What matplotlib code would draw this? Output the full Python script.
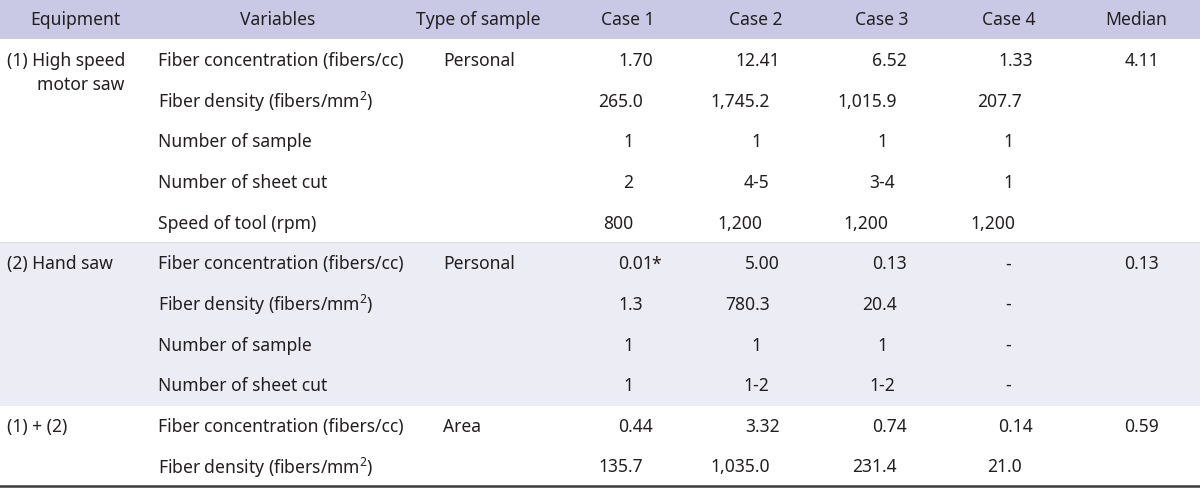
import matplotlib
matplotlib.use("Agg")
import matplotlib.pyplot as plt
from matplotlib.patches import Rectangle

plt.rcParams['font.family'] = ['Noto Sans', 'DejaVu Sans']
plt.rcParams['mathtext.fontset'] = 'custom'
plt.rcParams['mathtext.rm'] = 'Noto Sans'

# ---------------- data ----------------
headers = ["Equipment", "Variables", "Type of sample", "Case 1", "Case 2", "Case 3", "Case 4", "Median"]

equipment = ["(1) High speed\nmotor saw", "(2) Hand saw", "(1) + (2)"]
sample_type = ["Personal", "Personal", "Area"]

var_conc = "Fiber concentration (fibers/cc)"
var_dens = r"Fiber density (fibers/mm$^{2}$)"
var_nsamp = "Number of sample"
var_ncut = "Number of sheet cut"
var_speed = "Speed of tool (rpm)"

g1_variables = [var_conc, var_dens, var_nsamp, var_ncut, var_speed]
g1_conc = ["1.70", "12.41", "6.52", "1.33", "4.11"]
g1_dens = ["265.0", "1,745.2", "1,015.9", "207.7"]
g1_nsamp = ["1", "1", "1", "1"]
g1_ncut = ["2", "4-5", "3-4", "1"]
g1_speed = ["800", "1,200", "1,200", "1,200"]

g2_variables = [var_conc, var_dens, var_nsamp, var_ncut]
g2_conc = ["0.01*", "5.00", "0.13", "-", "0.13"]
g2_dens = ["1.3", "780.3", "20.4", "-"]
g2_nsamp = ["1", "1", "1", "-"]
g2_ncut = ["1", "1-2", "1-2", "-"]

g3_variables = [var_conc, var_dens]
g3_conc = ["0.44", "3.32", "0.74", "0.14", "0.59"]
g3_dens = ["135.7", "1,035.0", "231.4", "21.0"]

# ---------------- layout (styling only) ----------------
W, H = 1200, 489
fig = plt.figure(figsize=(12, 4.89), dpi=100)
ax = fig.add_axes([0, 0, 1, 1])
ax.set_xlim(0, W)
ax.set_ylim(H, 0)
ax.axis('off')

TXT = '#231f20'
FS = 12.6
HEAD_BG = '#c9c9e5'
G2_BG = '#ececf5'

header_h = 40
row_h = 40.65
row0 = 61

# x anchors
x_equip = 7
x_equip2_right = 124
x_var = 158
x_type = 443
conc_right = [653, 780, 907, 1033, 1159]
dens_right = [643, 770, 897, 1022]
speed_right = [633, 762, 888, 1015]
cnt_center = [628, 756, 882, 1008]
head_center = [75, 278, 478, 628, 756, 882, 1009, 1136]

# backgrounds
ax.add_patch(Rectangle((0, 0), W, header_h, color=HEAD_BG, lw=0, zorder=0))
g2_top = row0 + 5 * row_h - row_h / 2
g2_bot = g2_top + 4 * row_h
ax.add_patch(Rectangle((0, g2_top), W, g2_bot - g2_top, color=G2_BG, lw=0, zorder=0))
ax.plot([0, W], [g2_top - 0.5, g2_top - 0.5], color='#dcdcdc', lw=0.8, zorder=1)
ax.plot([0, W], [486.5, 486.5], color='#3a3a3a', lw=1.8, zorder=2)

for hx, h in zip(head_center, headers):
    ax.text(hx, header_h / 2, h, ha='center', va='center', fontsize=FS, color=TXT)


def put(x, y, s, ha):
    ax.text(x, y, s, ha=ha, va='center', fontsize=FS, color=TXT)


def conc_row(y, vals):
    for i, v in enumerate(vals):
        if v == '-':
            put(cnt_center[i], y, v, 'center')
        elif v.endswith('*'):
            put(conc_right[i], y, v[:-1], 'right')
            put(conc_right[i] - 2, y, v[-1], 'left')
        else:
            put(conc_right[i], y, v, 'right')


def right_row(y, vals, anchors):
    for i, v in enumerate(vals):
        if v == '-':
            put(cnt_center[i], y, v, 'center')
        else:
            put(anchors[i], y, v, 'right')


def center_row(y, vals):
    for i, v in enumerate(vals):
        put(cnt_center[i], y, v, 'center')


def ypos(i):
    return row0 + i * row_h

# group 1
eq_lines = equipment[0].split('\n')
put(x_equip, ypos(0), eq_lines[0], 'left')
put(x_equip2_right, ypos(0) + 24, eq_lines[1], 'right')
put(x_type, ypos(0), sample_type[0], 'left')
for k, v in enumerate(g1_variables):
    put(x_var, ypos(k), v, 'left')
conc_row(ypos(0), g1_conc)
right_row(ypos(1), g1_dens, dens_right)
center_row(ypos(2), g1_nsamp)
center_row(ypos(3), g1_ncut)
right_row(ypos(4), g1_speed, speed_right)

# group 2
put(x_equip, ypos(5), equipment[1], 'left')
put(x_type, ypos(5), sample_type[1], 'left')
for k, v in enumerate(g2_variables):
    put(x_var, ypos(5 + k), v, 'left')
conc_row(ypos(5), g2_conc)
right_row(ypos(6), g2_dens, dens_right)
center_row(ypos(7), g2_nsamp)
center_row(ypos(8), g2_ncut)

# group 3
put(x_equip, ypos(9), equipment[2], 'left')
put(x_type, ypos(9), sample_type[2], 'left')
for k, v in enumerate(g3_variables):
    put(x_var, ypos(9 + k), v, 'left')
conc_row(ypos(9), g3_conc)
right_row(ypos(10), g3_dens, dens_right)

fig.savefig('out.png', dpi=100)
